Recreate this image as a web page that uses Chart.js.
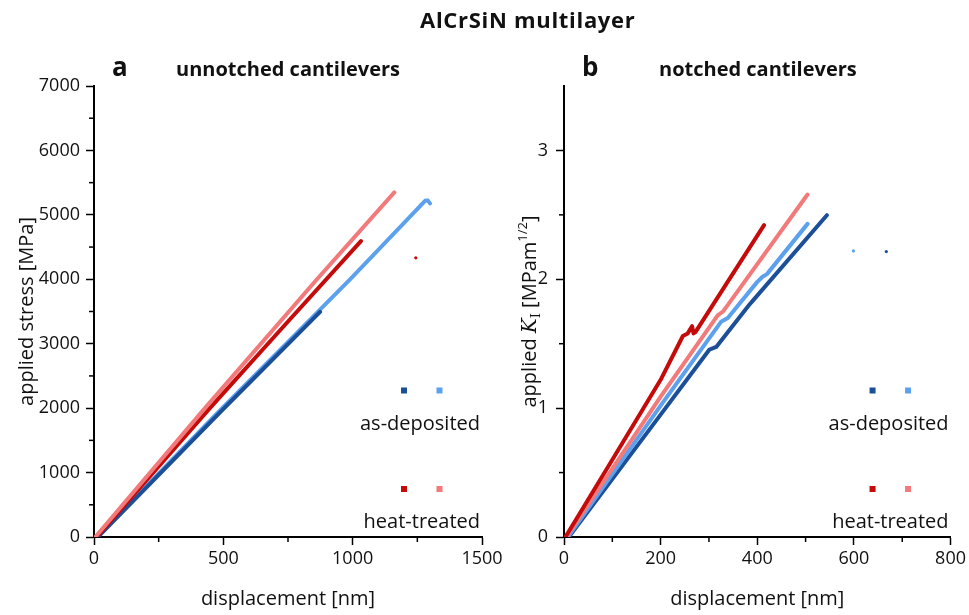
<!DOCTYPE html>
<html>
<head>
<meta charset="utf-8">
<script src="https://cdn.jsdelivr.net/npm/chart.js@4"></script>
<style>
  body { margin: 0; background: #fff; }
  #wrap { position: relative; width: 969px; height: 615px; font-family: 'Open Sans', sans-serif; color: #111; }
  canvas { position: absolute; left: 0; top: 0; }
  .txt { position: absolute; font-weight: bold; line-height: 1; white-space: nowrap; }
</style>
</head>
<body>
<div id="wrap">
  <canvas id="left" width="969" height="615"></canvas>
  <canvas id="right" width="969" height="615"></canvas>
  <div class="txt" style="left:420px; top:8px; font-size:22px; letter-spacing:0.7px;">AlCrSiN multilayer</div>
  <div class="txt" style="left:112px; top:53px; font-size:26px;">a</div>
  <div class="txt" style="left:176px; top:59px; font-size:20px;">unnotched cantilevers</div>
  <div class="txt" style="left:582px; top:53px; font-size:26px;">b</div>
  <div class="txt" style="left:659px; top:59px; font-size:20px;">notched cantilevers</div>
</div>
<script>
const FONT = "'Open Sans', sans-serif";
const darkBlue = "#1b4f97";
const lightBlue = "#5ba1ee";
const darkRed = "#c50a0a";
const lightRed = "#f27a7a";

// panel a: unnotched cantilevers, stress [MPa] vs displacement [nm]
const aDarkBlueX = [15, 494, 874];
const aDarkBlueY = [0, 1960, 3495];
const aLightBlueX = [12, 487, 990, 1280, 1290, 1299];
const aLightBlueY = [0, 1965, 4000, 5218, 5225, 5178];
const aDarkRedX = [10, 448, 750, 1032];
const aDarkRedY = [0, 2000, 3345, 4593];
const aLightRedX = [5, 429, 862, 1161];
const aLightRedY = [0, 2000, 4000, 5349];
const aStrayX = [1244, 1263];
const aStrayY = [4333, 5160];

// panel b: notched cantilevers, K_I [MPa m^1/2] vs displacement [nm]
const bDarkRedX = [3, 100, 200, 246, 256, 265, 268, 272, 330, 414];
const bDarkRedY = [0, 0.60, 1.22, 1.56, 1.58, 1.636, 1.58, 1.59, 1.93, 2.42];
const bLightRedX = [5, 200, 318, 329, 335, 504];
const bLightRedY = [0, 1.09, 1.72, 1.75, 1.78, 2.658];
const bLightBlueX = [8, 200, 325, 339, 400, 411, 420, 504];
const bLightBlueY = [0, 1.02, 1.67, 1.70, 1.98, 2.02, 2.04, 2.43];
const bDarkBlueX = [10, 200, 301, 315, 383, 390, 544];
const bDarkBlueY = [0, 0.95, 1.455, 1.475, 1.80, 1.83, 2.497];
const bStrayX = [599, 667];
const bStrayY = [2.22, 2.215];

const aTicksMinorX = [250, 750, 1250];
const aTicksMinorY = [500, 1500, 2500, 3500, 4500, 5500, 6500];
const bTicksMinorX = [100, 300, 500, 700];
const bTicksMinorY = [0.5, 1.5, 2.5];

const legendNames = ["as-deposited", "heat-treated"];

function pts(xs, ys) {
  return xs.map((x, i) => ({ x: x, y: ys[i] }));
}

function lineSet(xs, ys, color) {
  return {
    data: pts(xs, ys),
    showLine: true,
    borderColor: color,
    backgroundColor: color,
    borderWidth: 4,
    pointRadius: 0,
    borderJoinStyle: "round",
    borderCapStyle: "round"
  };
}

function dotSet(xs, ys, colors) {
  return {
    data: pts(xs, ys),
    showLine: false,
    pointRadius: 1.6,
    pointBorderWidth: 0,
    pointBackgroundColor: colors
  };
}

const minorTicks = {
  id: "minorTicks",
  afterDraw(chart, args, opts) {
    const ctx = chart.ctx;
    const sx = chart.scales.x, sy = chart.scales.y;
    ctx.save();
    ctx.strokeStyle = "#000";
    ctx.lineWidth = 1.5;
    opts.x.forEach(v => {
      const px = sx.getPixelForValue(v);
      ctx.beginPath(); ctx.moveTo(px, sx.top); ctx.lineTo(px, sx.top + 5); ctx.stroke();
    });
    opts.y.forEach(v => {
      const py = sy.getPixelForValue(v);
      ctx.beginPath(); ctx.moveTo(sy.right, py); ctx.lineTo(sy.right - 5, py); ctx.stroke();
    });
    ctx.restore();
  }
};

// two marker columns (dark / light) above each label
const pairLegend = {
  id: "pairLegend",
  afterDraw(chart, args, opts) {
    const ctx = chart.ctx;
    const a = chart.chartArea;
    const rows = [
      { colors: [darkBlue, lightBlue], name: legendNames[0], mark: a.bottom - 146.5, base: a.bottom - 107.5 },
      { colors: [darkRed, lightRed], name: legendNames[1], mark: a.bottom - 48, base: a.bottom - 9.5 }
    ];
    ctx.save();
    ctx.font = "20px " + FONT;
    ctx.textAlign = "right";
    ctx.textBaseline = "alphabetic";
    rows.forEach(r => {
      ctx.fillStyle = r.colors[0];
      ctx.fillRect(a.right - 81, r.mark - 3, 6, 6);
      ctx.fillStyle = r.colors[1];
      ctx.fillRect(a.right - 45.5, r.mark - 3, 6, 6);
      ctx.fillStyle = "#111";
      ctx.fillText(r.name, a.right - 2, r.base);
    });
    ctx.restore();
  }
};

// y title with italic K, subscript I and superscript 1/2
const kTitle = {
  id: "kTitle",
  afterDraw(chart, args, opts) {
    if (!opts.show) return;
    const ctx = chart.ctx;
    const a = chart.chartArea;
    const parts = [
      { t: "applied ", f: "20px " + FONT, dy: 0 },
      { t: "K", f: "italic 20px 'DejaVu Serif', serif", dy: 0 },
      { t: "I", f: "13px 'DejaVu Serif', serif", dy: 4 },
      { t: " [MPam", f: "20px " + FONT, dy: 0 },
      { t: "1/2", f: "13px " + FONT, dy: -9 },
      { t: "]", f: "20px " + FONT, dy: 0 }
    ];
    ctx.save();
    let w = 0;
    parts.forEach(p => { ctx.font = p.f; p.w = ctx.measureText(p.t).width; w += p.w; });
    ctx.translate(a.left - 35, (a.top + a.bottom) / 2);
    ctx.rotate(-Math.PI / 2);
    ctx.fillStyle = "#111";
    ctx.textBaseline = "alphabetic";
    let x = -w / 2;
    parts.forEach(p => {
      ctx.font = p.f;
      ctx.fillText(p.t, x, 7 + p.dy);
      x += p.w;
    });
    ctx.restore();
  }
};

function axis(min, max, step, title, fitSize, labelPad, titleOpts) {
  return {
    type: "linear",
    min: min,
    max: max,
    ticks: {
      stepSize: step,
      color: "#111",
      font: { family: FONT, size: 18 },
      padding: labelPad,
      maxRotation: 0,
      callback: v => (Number.isInteger(v / step) ? String(v) : "")
    },
    grid: { drawOnChartArea: false, drawTicks: true, tickLength: 8, tickWidth: 1.5, tickColor: "#000" },
    border: { color: "#000", width: 2 },
    title: Object.assign({ display: !!title, text: title, color: "#111", font: { family: FONT, size: 20 } }, titleOpts),
    afterBuildTicks: s => { s.ticks = s.ticks.filter(t => Number.isInteger(t.value / step)); },
    afterFit: s => { if (s.isHorizontal()) s.height = fitSize; else s.width = fitSize; }
  };
}

function makeChart(id, datasets, xs, ys, pad, minor, showK) {
  return new Chart(document.getElementById(id), {
    type: "scatter",
    data: { datasets: datasets },
    options: {
      responsive: false,
      animation: false,
      devicePixelRatio: 1,
      layout: { padding: pad },
      scales: { x: xs, y: ys },
      plugins: {
        legend: { display: false },
        tooltip: { enabled: false },
        minorTicks: minor,
        kTitle: { show: showK }
      }
    },
    plugins: [minorTicks, pairLegend, kTitle]
  });
}

makeChart("left",
  [
    lineSet(aLightRedX, aLightRedY, lightRed),
    lineSet(aDarkRedX, aDarkRedY, darkRed),
    lineSet(aDarkBlueX, aDarkBlueY, darkBlue),
    lineSet(aLightBlueX, aLightBlueY, lightBlue),
    dotSet(aStrayX, aStrayY, [darkRed, lightRed])
  ],
  axis(0, 1500, 500, "displacement [nm]", 78, 3, { padding: { top: 0, bottom: 4 } }),
  axis(0, 7000, 1000, "applied stress [MPa]", 94, 6, { padding: { top: 15, bottom: 0 } }),
  { left: 0, top: 86, right: 487, bottom: 0 },
  { x: aTicksMinorX, y: aTicksMinorY },
  false
);

makeChart("right",
  [
    lineSet(bDarkRedX, bDarkRedY, darkRed),
    lineSet(bLightRedX, bLightRedY, lightRed),
    lineSet(bLightBlueX, bLightBlueY, lightBlue),
    lineSet(bDarkBlueX, bDarkBlueY, darkBlue),
    dotSet(bStrayX, bStrayY, [lightBlue, darkBlue])
  ],
  axis(0, 800, 200, "displacement [nm]", 78, 3, { padding: { top: 0, bottom: 4 } }),
  axis(0, 3.5, 1, "", 94, 8, {}),
  { left: 470, top: 86, right: 17, bottom: 0 },
  { x: bTicksMinorX, y: bTicksMinorY },
  true
);
</script>
</body>
</html>
